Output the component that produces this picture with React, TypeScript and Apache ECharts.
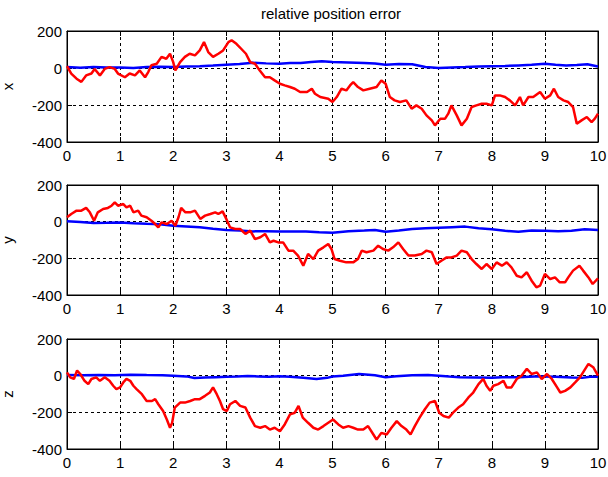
import React, { useEffect, useRef } from "react";
import * as echarts from "echarts";

const title = "relative position error";
const axisNames = ["x", "y", "z"];
const xTicks = { min: 0, max: 10, interval: 1 };
const yTicks = { min: -400, max: 200, interval: 200 };

// [time, error] pairs
const xRed: [number, number][] = [
  [0, 10], [0.08, -30], [0.18, -58], [0.27, -75], [0.36, -40], [0.46, -30], [0.52, -5], [0.62, -40], [0.71, -5], [0.8, 5],
  [0.9, -5], [0.96, -30], [1.09, -50], [1.18, -30], [1.28, -40], [1.37, -13], [1.47, -50], [1.53, -22], [1.59, 15], [1.69, 23],
  [1.78, 60], [1.87, 50], [1.94, 77], [2.0, 32], [2.04, -13], [2.13, 32], [2.22, 60], [2.31, 77], [2.41, 68], [2.5, 95],
  [2.58, 140], [2.66, 86], [2.75, 60], [2.85, 77], [2.94, 95], [3.04, 140], [3.1, 150], [3.19, 131], [3.28, 104], [3.37, 77],
  [3.45, 32], [3.54, 23], [3.63, -13], [3.73, -50], [3.82, -50], [3.91, -67], [4.01, -85], [4.1, -94], [4.2, -103], [4.29, -112],
  [4.39, -130], [4.52, -130], [4.61, -112], [4.67, -139], [4.77, -157], [4.92, -166], [5.0, -184], [5.08, -157], [5.17, -112], [5.26, -121],
  [5.33, -94], [5.39, -76], [5.48, -103], [5.58, -121], [5.7, -112], [5.83, -103], [5.92, -67], [6.0, -85], [6.08, -157], [6.17, -175],
  [6.27, -184], [6.39, -175], [6.49, -220], [6.58, -202], [6.68, -220], [6.77, -256], [6.87, -283], [6.93, -310], [7.03, -274], [7.12, -274],
  [7.18, -247], [7.24, -202], [7.34, -256], [7.43, -310], [7.53, -274], [7.62, -211], [7.71, -202], [7.81, -193], [7.9, -193], [8.0, -202],
  [8.06, -148], [8.15, -148], [8.25, -157], [8.34, -175], [8.44, -202], [8.53, -157], [8.59, -202], [8.69, -157], [8.78, -157], [8.91, -130],
  [9.0, -166], [9.1, -148], [9.17, -112], [9.25, -157], [9.35, -175], [9.44, -184], [9.53, -211], [9.6, -301], [9.69, -283], [9.79, -265],
  [9.88, -292], [9.94, -274], [10, -247],
];
const xBlue: [number, number][] = [
  [0, 5], [0.25, 2], [0.5, 6], [0.75, 3], [1, 3], [1.25, 0], [1.5, 5], [1.75, 7], [2, 5], [2.25, 8], [2.5, 10], [2.75, 13],
  [3, 18], [3.25, 22], [3.5, 28], [3.75, 25], [4, 23], [4.2, 27], [4.4, 27], [4.6, 32], [4.8, 36], [5, 32], [5.3, 30],
  [5.6, 27], [5.8, 24], [6, 18], [6.25, 21], [6.5, 20], [6.75, 5], [7, 0], [7.25, 3], [7.5, 5], [7.75, 8], [8, 10],
  [8.25, 11], [8.5, 14], [8.75, 17], [9, 23], [9.2, 18], [9.4, 14], [9.6, 16], [9.8, 20], [10, 8],
];
const yRed: [number, number][] = [
  [0, 24], [0.08, 42], [0.18, 60], [0.27, 60], [0.36, 75], [0.43, 51], [0.51, 5], [0.58, 51], [0.68, 69], [0.77, 75],
  [0.84, 87], [0.9, 105], [0.96, 87], [1.06, 96], [1.12, 78], [1.19, 87], [1.25, 51], [1.34, 60], [1.4, 33], [1.5, 24],
  [1.59, 5], [1.66, -13], [1.72, -31], [1.78, -4], [1.88, -13], [1.97, 5], [2.04, -22], [2.1, 24], [2.15, 75], [2.23, 51],
  [2.32, 51], [2.41, 60], [2.51, 15], [2.6, 33], [2.7, 42], [2.79, 51], [2.85, 42], [2.93, 56], [3.0, 15], [3.07, -31],
  [3.17, -40], [3.26, -40], [3.36, -67], [3.45, -49], [3.54, -95], [3.64, -85], [3.73, -67], [3.82, -113], [3.89, -104], [3.98, -113],
  [4.07, -113], [4.17, -158], [4.26, -158], [4.35, -185], [4.45, -240], [4.54, -176], [4.64, -204], [4.73, -158], [4.83, -140], [4.92, -122],
  [4.98, -149], [5.04, -204], [5.14, -213], [5.26, -222], [5.39, -222], [5.48, -204], [5.55, -158], [5.64, -167], [5.77, -158], [5.86, -131],
  [5.95, -149], [6.05, -158], [6.14, -140], [6.24, -113], [6.33, -149], [6.43, -185], [6.55, -185], [6.68, -176], [6.77, -158], [6.87, -167],
  [6.96, -231], [7.05, -213], [7.15, -195], [7.24, -195], [7.34, -185], [7.43, -158], [7.53, -167], [7.62, -204], [7.71, -231], [7.81, -258],
  [7.9, -231], [8.0, -258], [8.09, -222], [8.19, -240], [8.28, -222], [8.37, -249], [8.47, -295], [8.56, -304], [8.66, -276], [8.75, -322],
  [8.84, -358], [8.91, -349], [9.0, -285], [9.1, -313], [9.19, -304], [9.28, -331], [9.38, -331], [9.44, -304], [9.53, -267], [9.65, -240],
  [9.72, -267], [9.82, -304], [9.9, -340], [10, -309],
];
const yBlue: [number, number][] = [
  [0, 2], [0.25, -2], [0.5, -7], [0.75, -6], [1, -4], [1.25, -9], [1.5, -12], [1.75, -14], [2, -22], [2.25, -26], [2.5, -30],
  [2.75, -38], [3, -45], [3.25, -48], [3.5, -53], [3.75, -52], [4, -53], [4.25, -54], [4.5, -53], [4.75, -58], [5, -60],
  [5.3, -52], [5.6, -48], [5.8, -45], [6, -55], [6.25, -48], [6.5, -40], [6.75, -36], [7, -33], [7.25, -30], [7.5, -27],
  [7.75, -36], [8, -42], [8.25, -50], [8.5, -55], [8.75, -48], [9, -50], [9.25, -52], [9.5, -49], [9.75, -42], [10, -45],
];
const zRed: [number, number][] = [
  [0, 18], [0.06, -9], [0.13, -18], [0.19, 28], [0.25, 9], [0.33, -28], [0.4, -46], [0.46, -18], [0.55, -9], [0.62, -28],
  [0.71, -9], [0.8, -28], [0.87, -55], [0.93, -73], [1.0, -64], [1.06, -37], [1.12, -18], [1.19, -28], [1.25, -55], [1.31, -73],
  [1.41, -101], [1.5, -138], [1.6, -138], [1.66, -128], [1.72, -156], [1.81, -193], [1.88, -239], [1.94, -284], [1.98, -257], [2.03, -174],
  [2.13, -147], [2.22, -147], [2.32, -138], [2.41, -128], [2.5, -128], [2.6, -110], [2.69, -92], [2.75, -64], [2.82, -101], [2.88, -138],
  [2.94, -183], [3.01, -193], [3.07, -156], [3.17, -138], [3.26, -165], [3.36, -174], [3.45, -229], [3.54, -275], [3.64, -284], [3.73, -275],
  [3.82, -294], [3.91, -284], [4.01, -303], [4.1, -266], [4.2, -211], [4.29, -202], [4.36, -165], [4.44, -229], [4.54, -257], [4.64, -284],
  [4.73, -294], [4.83, -275], [4.92, -257], [5.01, -239], [5.11, -266], [5.2, -284], [5.3, -275], [5.39, -284], [5.48, -294], [5.58, -294],
  [5.67, -275], [5.77, -321], [5.83, -349], [5.92, -312], [6.02, -321], [6.11, -284], [6.21, -248], [6.3, -275], [6.39, -294], [6.47, -321],
  [6.55, -275], [6.64, -229], [6.74, -183], [6.83, -147], [6.93, -138], [7.01, -202], [7.09, -220], [7.19, -229], [7.27, -202], [7.37, -174],
  [7.46, -156], [7.56, -119], [7.65, -92], [7.75, -46], [7.84, -18], [7.9, -55], [7.97, -83], [8.03, -55], [8.12, -46], [8.22, -28],
  [8.28, -64], [8.37, -64], [8.47, -18], [8.56, 0], [8.66, 37], [8.75, 9], [8.85, 18], [8.94, -18], [9.04, 9], [9.13, -18],
  [9.23, -64], [9.29, -92], [9.38, -83], [9.48, -64], [9.57, -37], [9.66, -9], [9.76, 37], [9.82, 64], [9.91, 46], [10, 0],
];
const zBlue: [number, number][] = [
  [0, 3], [0.3, 2], [0.6, 4], [0.9, 2], [1.2, 5], [1.5, 3], [1.8, 2], [2.0, 0], [2.25, -4], [2.4, -13], [2.6, -10],
  [2.8, -8], [3.0, -6], [3.2, -5], [3.4, -2], [3.6, -4], [3.8, -6], [4.0, -3], [4.2, -6], [4.45, -12], [4.7, -18],
  [4.9, -12], [5.0, -5], [5.2, 0], [5.5, 9], [5.8, 2], [6.0, -9], [6.2, -3], [6.5, 2], [6.8, 4], [7.0, 0],
  [7.2, -5], [7.4, -8], [7.7, -10], [8.0, -12], [8.2, -9], [8.5, -8], [8.8, -5], [9.0, -5], [9.2, -6], [9.5, -10],
  [9.7, -12], [9.85, -6], [10, -6],
];

const panels = [
  { red: xRed, blue: xBlue },
  { red: yRed, blue: yBlue },
  { red: zRed, blue: zBlue },
];

const gridTops = [31, 185, 339];
const gridHeights = [111, 110, 110];

export default function App() {
  const ref = useRef<HTMLDivElement>(null);
  useEffect(() => {
    if (!ref.current) return;
    const chart = echarts.init(ref.current, null, { renderer: "svg" });
    const font = "Liberation Sans, Arial, sans-serif";
    const grid: any[] = [];
    const xAxis: any[] = [];
    const yAxis: any[] = [];
    const series: any[] = [];
    panels.forEach((p, i) => {
      grid.push({
        left: 67,
        top: gridTops[i],
        width: 531,
        height: gridHeights[i],
        containLabel: false,
        outerBoundsMode: "none",
        show: true,
        borderColor: "#000",
        borderWidth: 1,
        backgroundColor: "#fff",
      });
      const splitLine = { show: true, lineStyle: { color: "#000", type: [3, 3], width: 1 } };
      xAxis.push({
        type: "value",
        gridIndex: i,
        position: "bottom",
        ...xTicks,
        axisLine: { show: true, onZero: false, lineStyle: { color: "#000" } },
        axisTick: { show: true, inside: true, length: 5, lineStyle: { color: "#000" } },
        axisLabel: { color: "#000", fontSize: 15, fontFamily: font, margin: 6 },
        splitLine,
      });
      xAxis.push({
        type: "value",
        gridIndex: i,
        position: "top",
        ...xTicks,
        axisLine: { show: true, onZero: false, lineStyle: { color: "#000" } },
        axisTick: { show: true, inside: true, length: 5, lineStyle: { color: "#000" } },
        axisLabel: { show: false },
        splitLine: { show: false },
      });
      yAxis.push({
        type: "value",
        gridIndex: i,
        position: "left",
        ...yTicks,
        name: axisNames[i],
        nameLocation: "middle",
        nameGap: 52,
        nameTextStyle: { color: "#000", fontSize: 15, fontFamily: font },
        axisLine: { show: true, onZero: false, lineStyle: { color: "#000" } },
        axisTick: { show: true, inside: true, length: 5, lineStyle: { color: "#000" } },
        axisLabel: { color: "#000", fontSize: 15, fontFamily: font, margin: 5 },
        splitLine,
      });
      yAxis.push({
        type: "value",
        gridIndex: i,
        position: "right",
        ...yTicks,
        axisLine: { show: true, onZero: false, lineStyle: { color: "#000" } },
        axisTick: { show: true, inside: true, length: 5, lineStyle: { color: "#000" } },
        axisLabel: { show: false },
        splitLine: { show: false },
      });
      series.push({
        type: "line",
        xAxisIndex: i * 2,
        yAxisIndex: i * 2,
        data: p.blue,
        showSymbol: false,
        symbol: "none",
        lineStyle: { color: "#0000ff", width: 2.5 },
        z: 2,
      });
      series.push({
        type: "line",
        xAxisIndex: i * 2,
        yAxisIndex: i * 2,
        data: p.red,
        showSymbol: false,
        symbol: "none",
        lineStyle: { color: "#ff0000", width: 2.5 },
        z: 3,
      });
    });
    chart.setOption({
      animation: false,
      backgroundColor: "#fff",
      grid,
      xAxis,
      yAxis,
      series,
      graphic: [
        {
          type: "text",
          x: 331,
          y: 13,
          style: {
            text: title,
            fontSize: 15,
            fontFamily: font,
            fill: "#000",
            textAlign: "center",
            textVerticalAlign: "middle",
          },
        },
      ],
    });
    return () => chart.dispose();
  }, []);
  return <div ref={ref} style={{ position: "absolute", left: 0, top: 0, width: 608, height: 477 }} />;
}
